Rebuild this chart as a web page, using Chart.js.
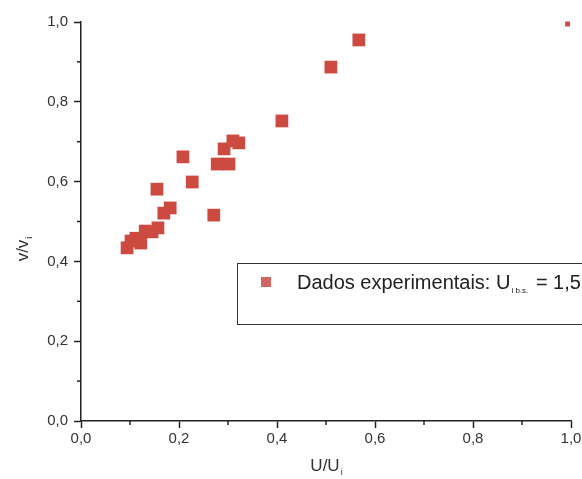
<!DOCTYPE html>
<html>
<head>
<meta charset="utf-8">
<script src="https://cdn.jsdelivr.net/npm/chart.js@4.4.0/dist/chart.umd.min.js"></script>
<style>
  html, body { margin: 0; padding: 0; background: #fff; }
  #wrap { width: 582px; height: 479px; }
</style>
</head>
<body>
<div id="wrap"><canvas id="chart" width="582" height="479"></canvas></div>
<script>
// measured velocity ratio against flow ratio
var uRatio = [0.094, 0.102, 0.112, 0.122, 0.131, 0.145, 0.157, 0.155, 0.169, 0.182,
              0.208, 0.227, 0.271, 0.278, 0.302, 0.292, 0.310, 0.322, 0.410, 0.510, 0.567];
var vRatio = [0.434, 0.451, 0.458, 0.446, 0.476, 0.474, 0.484, 0.581, 0.521, 0.534,
              0.662, 0.599, 0.516, 0.644, 0.644, 0.682, 0.702, 0.697, 0.752, 0.887, 0.955];

// reference point at full flow
var refU = [0.993];
var refV = [0.995];

var xTicks = [0, 0.2, 0.4, 0.6, 0.8, 1.0];
var yTicks = [0, 0.2, 0.4, 0.6, 0.8, 1.0];
var minorTicks = [0.1, 0.3, 0.5, 0.7, 0.9];

var legendLabel = 'Dados experimentais: U';
var legendSub = 'i b.s.';
var legendTail = ' = 1,5';

var RED = '#cc4a40';
var AXIS = '#222';
var FONT = '"Liberation Sans", Arial, sans-serif';

function toPoints(xs, ys) {
  return xs.map(function(x, i) { return { x: x, y: ys[i] }; });
}

function commaFmt(v) {
  return Number(v).toFixed(1).replace('.', ',');
}

// short ticks between the labelled ones
var minorTickPlugin = {
  id: 'minorTicks',
  afterDraw: function(chart) {
    var ctx = chart.ctx;
    var xs = chart.scales.x, ys = chart.scales.y;
    ctx.save();
    ctx.strokeStyle = AXIS;
    ctx.lineWidth = 1.5;
    minorTicks.forEach(function(v) {
      var px = xs.getPixelForValue(v);
      ctx.beginPath();
      ctx.moveTo(px, xs.top);
      ctx.lineTo(px, xs.top + 4);
      ctx.stroke();
      var py = ys.getPixelForValue(v);
      ctx.beginPath();
      ctx.moveTo(ys.right, py);
      ctx.lineTo(ys.right - 4, py);
      ctx.stroke();
    });
    ctx.restore();
  }
};

function drawSubscripted(ctx, main, sub, x, y, size) {
  ctx.font = size + 'px ' + FONT;
  var w1 = ctx.measureText(main).width;
  ctx.font = Math.round(size * 0.5) + 'px ' + FONT;
  var w2 = ctx.measureText(sub).width;
  var start = x - (w1 + w2) / 2;
  ctx.font = size + 'px ' + FONT;
  ctx.fillText(main, start, y);
  ctx.font = Math.round(size * 0.5) + 'px ' + FONT;
  ctx.fillText(sub, start + w1 + 1, y + 4);
}

// axis titles with subscripts
var axisTitlePlugin = {
  id: 'axisTitles',
  afterDraw: function(chart) {
    var ctx = chart.ctx;
    var area = chart.chartArea;
    ctx.save();
    ctx.fillStyle = '#333';
    ctx.textBaseline = 'alphabetic';
    ctx.textAlign = 'left';
    drawSubscripted(ctx, 'U/U', 'i', (area.left + area.right) / 2, 471, 17);
    ctx.translate(28, (area.top + area.bottom) / 2 + 28);
    ctx.rotate(-Math.PI / 2);
    drawSubscripted(ctx, 'v/v', 'i', 0, 0, 17);
    ctx.restore();
  }
};

// boxed legend entry
var legendBoxPlugin = {
  id: 'legendBox',
  afterDraw: function(chart) {
    var ctx = chart.ctx;
    ctx.save();
    ctx.strokeStyle = '#333';
    ctx.lineWidth = 1;
    ctx.strokeRect(237.5, 263.5, 420, 61);
    ctx.fillStyle = '#d36560';
    ctx.fillRect(261, 277, 10, 10);
    ctx.fillStyle = '#222';
    ctx.textBaseline = 'alphabetic';
    ctx.font = '20px ' + FONT;
    ctx.fillText(legendLabel, 297, 289);
    var w = ctx.measureText(legendLabel).width;
    ctx.font = '8px ' + FONT;
    ctx.fillText(legendSub, 297 + w + 1, 293);
    var w2 = ctx.measureText(legendSub).width;
    ctx.font = '20px ' + FONT;
    ctx.fillText(legendTail, 297 + w + w2 + 3, 289);
    ctx.restore();
  }
};

function axisOpts(ticks, fit, pad) {
  return {
    type: 'linear',
    min: 0,
    max: 1,
    afterBuildTicks: function(scale) {
      scale.ticks = ticks.map(function(v) { return { value: v }; });
    },
    afterFit: fit,
    ticks: {
      callback: commaFmt,
      color: '#333',
      font: { family: FONT, size: 15 },
      padding: pad
    },
    grid: {
      display: true,
      drawOnChartArea: false,
      drawTicks: true,
      tickLength: 7,
      tickWidth: 1.5,
      tickColor: AXIS
    },
    border: { display: true, color: AXIS, width: 1.5 }
  };
}

new Chart(document.getElementById('chart'), {
  type: 'scatter',
  data: {
    datasets: [
      {
        label: legendLabel,
        data: toPoints(uRatio, vRatio),
        pointStyle: 'rect',
        pointRadius: 9,
        backgroundColor: RED,
        borderColor: RED,
        borderWidth: 0,
        clip: false
      },
      {
        label: 'ref',
        data: toPoints(refU, refV),
        pointStyle: 'rect',
        pointRadius: 3.5,
        backgroundColor: RED,
        borderColor: RED,
        borderWidth: 0,
        clip: false
      }
    ]
  },
  options: {
    responsive: false,
    animation: false,
    layout: { padding: { top: 22, right: 11, left: 0, bottom: 0 } },
    plugins: {
      legend: { display: false },
      tooltip: { enabled: false }
    },
    scales: {
      x: axisOpts(xTicks, function(s) { s.height = 58; s.paddingRight = 0; }, 2),
      y: axisOpts(yTicks, function(s) { s.width = 81; }, 6)
    }
  },
  plugins: [minorTickPlugin, axisTitlePlugin, legendBoxPlugin]
});
</script>
</body>
</html>
